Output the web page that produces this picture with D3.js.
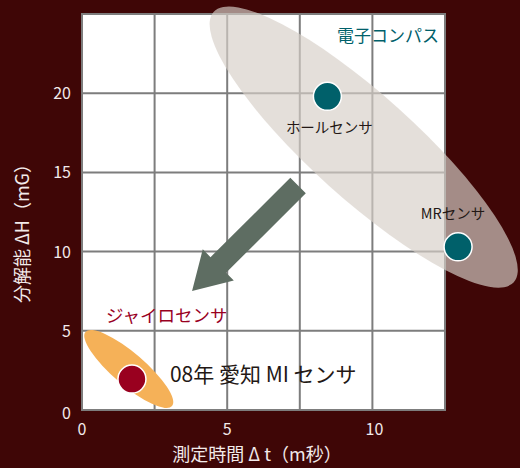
<!DOCTYPE html>
<html>
<head>
<meta charset="utf-8">
<script src="https://cdn.jsdelivr.net/npm/d3@7"></script>
<style>
  html, body { margin: 0; padding: 0; background: #3f0606; }
  svg { display: block; }
  text { font-family: "Noto Sans CJK JP", "Noto Sans", sans-serif; }
</style>
</head>
<body>
<div id="chart"></div>
<script>
// sensors: measuring time (ms) vs resolution (mG)
var sensorNames = ["ホールセンサ", "MRセンサ", "08年 愛知 MI センサ"];
var measureTime = [8.45, 12.95, 1.72];
var resolution = [19.8, 10.3, 1.95];
var sensorGroup = ["compass", "compass", "mi"];

var xTicks = [0, 5, 10];
var yTicks = [0, 5, 10, 15, 20];
var xGridValues = [2.5, 5, 7.5, 10];
var yGridValues = [5, 10, 15, 20];

var groupNames = ["電子コンパス", "ジャイロセンサ"];

(function () {
    var width = 520, height = 468;
    var left = 82, right = 445, top = 14, bottom = 410;

    var svg = d3.select("#chart").append("svg")
        .attr("width", width).attr("height", height);

    svg.append("rect").attr("width", width).attr("height", height).attr("fill", "#3f0606");

    var x = d3.scaleLinear().domain([0, 12.5]).range([left, right]);
    var y = d3.scaleLinear().domain([0, 25]).range([bottom, top]);

    // plot area
    svg.append("rect")
        .attr("x", left).attr("y", top)
        .attr("width", right - left).attr("height", bottom - top)
        .attr("fill", "#fff");

    // grid
    var grid = svg.append("g").attr("stroke", "#7d7d7d").attr("stroke-width", 2);
    grid.selectAll("line.v").data(xGridValues).enter().append("line")
        .attr("x1", function (d) { return x(d); }).attr("x2", function (d) { return x(d); })
        .attr("y1", top).attr("y2", bottom);
    grid.selectAll("line.h").data(yGridValues).enter().append("line")
        .attr("y1", function (d) { return y(d); }).attr("y2", function (d) { return y(d); })
        .attr("x1", left).attr("x2", right);
    svg.append("rect")
        .attr("x", left).attr("y", top)
        .attr("width", right - left).attr("height", bottom - top)
        .attr("fill", "none").attr("stroke", "#7d7d7d").attr("stroke-width", 2);

    // region ellipses (centre in data units, radii in px)
    svg.append("ellipse")
        .attr("cx", 0).attr("cy", 0).attr("rx", 202).attr("ry", 52)
        .attr("transform", "translate(" + x(9.7) + "," + y(16.6) + ") rotate(42)")
        .attr("fill", "rgb(215,207,200)").attr("fill-opacity", 0.67);

    svg.append("ellipse")
        .attr("cx", 0).attr("cy", 0).attr("rx", 57).attr("ry", 16)
        .attr("transform", "translate(" + x(1.61) + "," + y(2.59) + ") rotate(40.6)")
        .attr("fill", "#f5b158");

    // arrow from compass region toward MI
    var p0 = [x(7.44), y(14.17)], p1 = [x(3.79), y(7.51)];
    var dx = p1[0] - p0[0], dy = p1[1] - p0[1];
    var len = Math.sqrt(dx * dx + dy * dy);
    var ux = dx / len, uy = dy / len, nx = -uy, ny = ux;
    var sw = 11, hw = 22, hl = 37;
    function pt(along, side) {
        return [p0[0] + ux * along + nx * side, p0[1] + uy * along + ny * side];
    }
    var arrowPts = [pt(0, -sw), pt(len - hl, -sw), pt(len - hl, -hw), pt(len, 0),
        pt(len - hl, hw), pt(len - hl, sw), pt(0, sw)];
    svg.append("polygon")
        .attr("points", arrowPts.map(function (p) { return p.join(","); }).join(" "))
        .attr("fill", "#5e6d62");

    // points
    var idx = d3.range(sensorNames.length);
    svg.selectAll("circle.s").data(idx).enter().append("circle")
        .attr("cx", function (i) { return x(measureTime[i]); })
        .attr("cy", function (i) { return y(resolution[i]); })
        .attr("r", 14)
        .attr("fill", function (i) { return sensorGroup[i] === "mi" ? "#99001f" : "#00606a"; })
        .attr("stroke", "#fff").attr("stroke-width", 1.5);

    // point labels
    var labelOffset = [[2, 37, "middle", 14.5], [-5, -28, "middle", 14.5], [38, 3, "start", 21]];
    svg.selectAll("text.s").data(idx).enter().append("text")
        .attr("x", function (i) { return x(measureTime[i]) + labelOffset[i][0]; })
        .attr("y", function (i) { return y(resolution[i]) + labelOffset[i][1]; })
        .attr("text-anchor", function (i) { return labelOffset[i][2]; })
        .attr("font-size", function (i) { return labelOffset[i][3]; })
        .attr("fill", "#231815")
        .text(function (i) { return sensorNames[i]; });

    // group labels
    svg.append("text").attr("x", 439).attr("y", 42).attr("text-anchor", "end")
        .attr("font-size", 17).attr("fill", "#00606a").text(groupNames[0]);
    svg.append("text").attr("x", 106).attr("y", 322)
        .attr("font-size", 17.5).attr("fill", "#99001f").text(groupNames[1]);

    // ticks
    svg.selectAll("text.yt").data(yTicks).enter().append("text")
        .attr("x", 71).attr("y", function (d) { return y(d) + (d === 0 ? 9 : 6); })
        .attr("text-anchor", "end").attr("font-size", 16).attr("fill", "#f2eaea")
        .text(function (d) { return d; });
    svg.selectAll("text.xt").data(xTicks).enter().append("text")
        .attr("x", function (d) { return x(d) + (d === 10 ? 2 : 0); }).attr("y", 435)
        .attr("text-anchor", "middle").attr("font-size", 16).attr("fill", "#f2eaea")
        .text(function (d) { return d; });

    // axis titles
    svg.append("text").attr("x", 257).attr("y", 461).attr("text-anchor", "middle")
        .attr("font-size", 18).attr("fill", "#f2eaea").text("測定時間 Δ t（m秒）");
    svg.append("text").attr("transform", "translate(29,229) rotate(-90)")
        .attr("text-anchor", "middle")
        .attr("font-size", 18).attr("fill", "#f2eaea").text("分解能 ΔH（mG）");
})();
</script>
</body>
</html>
